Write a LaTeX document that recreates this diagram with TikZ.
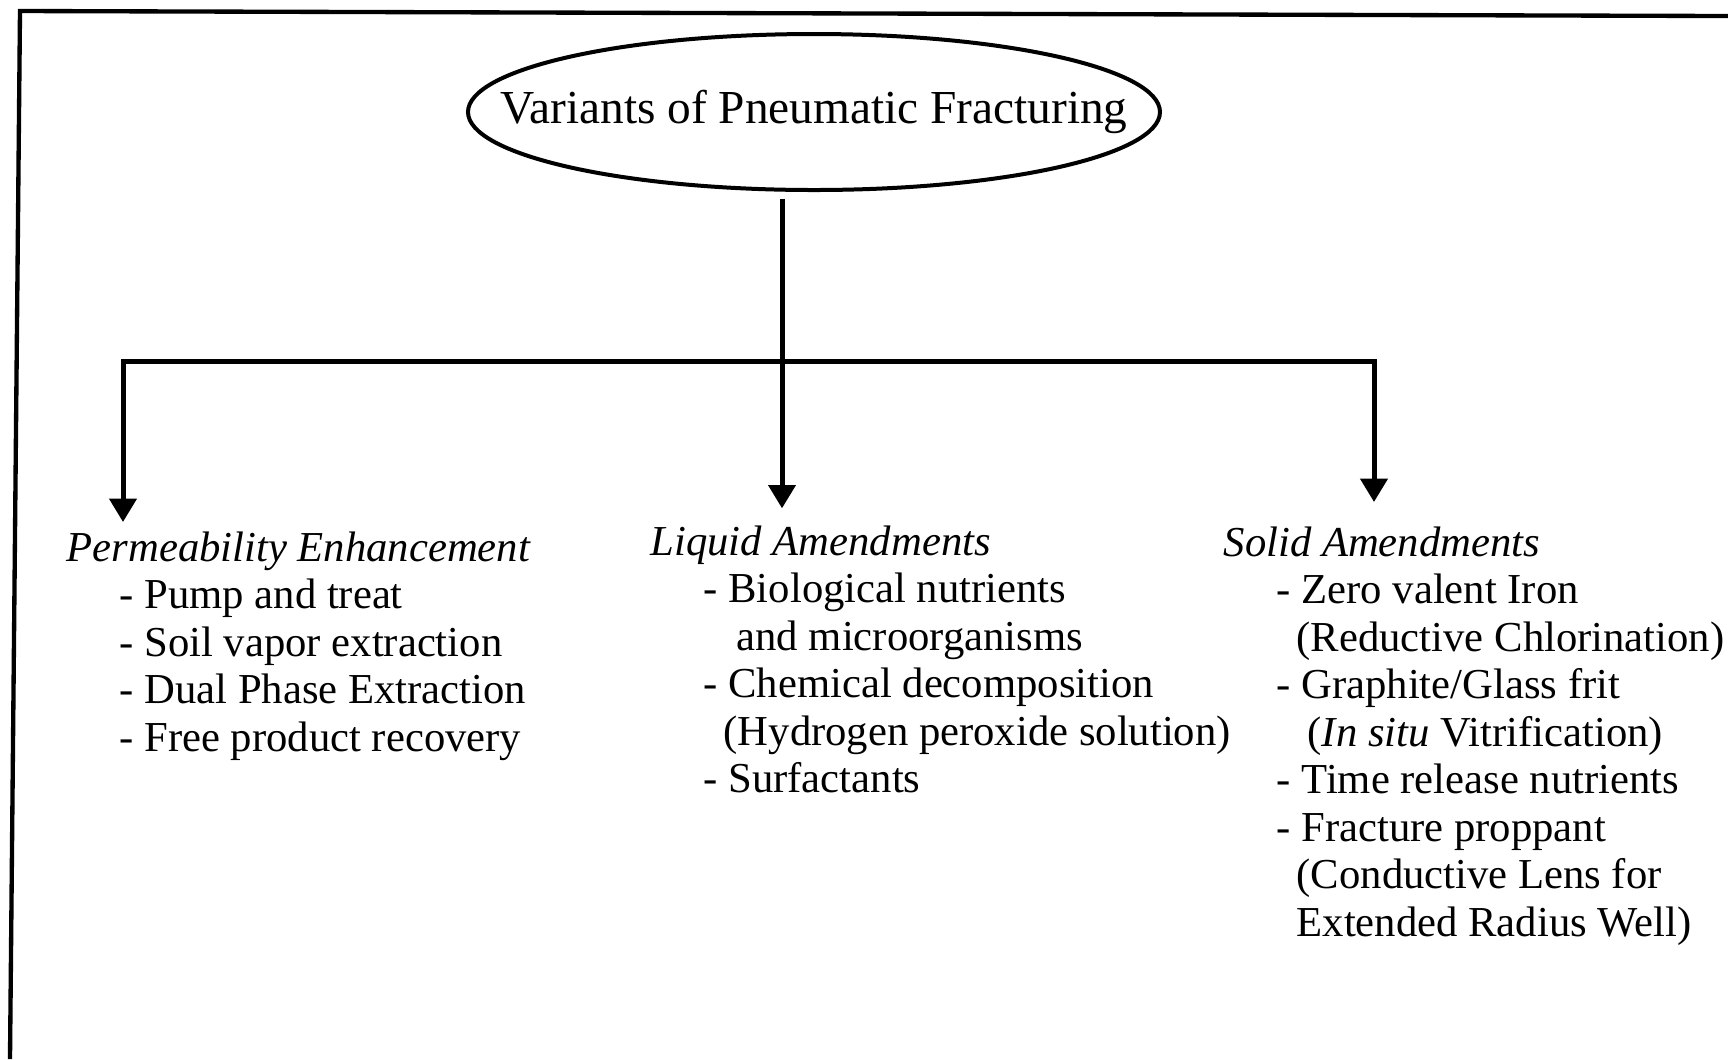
\documentclass[tikz,border=0pt]{standalone}
\usepackage{fontspec}
\setmainfont{Liberation Serif}
\usetikzlibrary{arrows.meta}
\usetikzlibrary{shapes.geometric}
\usetikzlibrary{positioning}

\begin{document}
\begin{tikzpicture}
  [x=0.3pt, y=-0.3pt,
   every node/.style={inner sep=0pt},
   title/.style={draw, ellipse, line width=1.2pt, minimum width=207.6pt, minimum height=46.8pt,
     font=\fontsize{14.2pt}{16pt}\selectfont},
   column/.style={anchor=north west, align=left, font=\fontsize{12.8pt}{14.25pt}\selectfont},
   link/.style={line width=1.5pt},
   branch/.style={link, -{Triangle[width=8pt, length=7pt]}}]
  \useasboundingbox (0,0) rectangle (1728,1059);
  \draw[line width=1.3pt] (10,1059) -- (20,11) -- (1728,16);

  \node (root) [title] at (814,112) {\makebox[0pt]{Variants of Pneumatic Fracturing}};

  \node (perm) [column] at (66,531) {\textit{Permeability Enhancement}\\
    \hspace*{15.9pt}- Pump and treat\\
    \hspace*{15.9pt}- Soil vapor extraction\\
    \hspace*{15.9pt}- Dual Phase Extraction\\
    \hspace*{15.9pt}- Free product recovery};
  \node (liquid) [column] at (650,525) {\textit{Liquid Amendments}\\
    \hspace*{15.9pt}- Biological nutrients\\
    \hspace*{25.8pt}and microorganisms\\
    \hspace*{15.9pt}- Chemical decomposition\\
    \hspace*{21.9pt}(Hydrogen peroxide solution)\\
    \hspace*{15.9pt}- Surfactants};
  \node (solid) [column] at (1223,526) {\textit{Solid Amendments}\\
    \hspace*{15.9pt}- Zero valent Iron\\
    \hspace*{21.9pt}(Reductive Chlorination)\\
    \hspace*{15.9pt}- Graphite/Glass frit\\
    \hspace*{25.2pt}(\textit{In situ} Vitrification)\\
    \hspace*{15.9pt}- Time release nutrients\\
    \hspace*{15.9pt}- Fracture proppant\\
    \hspace*{21.9pt}(Conductive Lens for\\
    \hspace*{21.9pt}Extended Radius Well)};

  \coordinate (hub) at (782,361);
  \draw[branch, shorten <=2pt, shorten >=5pt] (root.south -| hub) -- (hub |- liquid.north);
  \draw[branch, shorten >=2.7pt] (hub) -| ([xshift=17.1pt]perm.north west);
  \draw[branch, shorten >=7.2pt] (hub) -| ([xshift=45.3pt]solid.north west);
\end{tikzpicture}
\end{document}
